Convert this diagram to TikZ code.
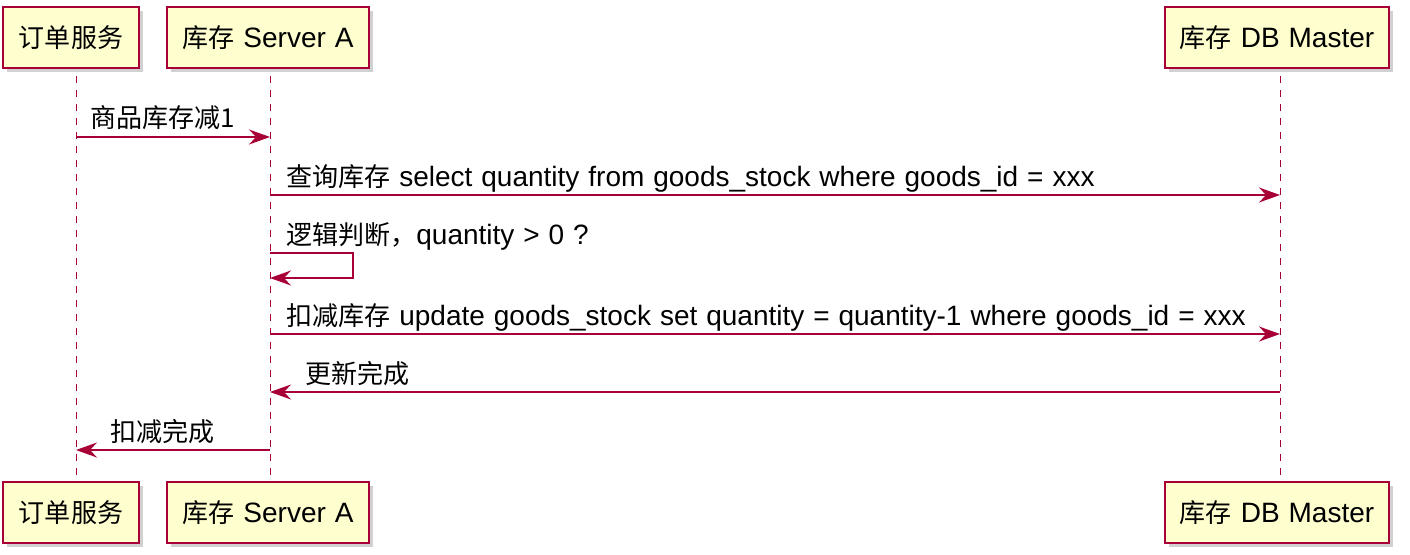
\documentclass[tikz,border=0pt]{standalone}
\usepackage{fontspec}
\setmainfont[WordSpace=1.15]{Liberation Sans}
\newfontfamily\cjk[Scale=0.93]{Noto Sans CJK SC}
\usetikzlibrary{arrows.meta,shadows}
\definecolor{umlred}{HTML}{A80036}
\definecolor{umlfill}{HTML}{FEFECE}

\begin{document}
\begin{tikzpicture}[x=1pt,y=-1pt,
    actor/.style={draw=umlred,fill=umlfill,line width=2pt,minimum height=61pt,
        inner xsep=14pt,font=\fontsize{28}{30}\selectfont,
        drop shadow={shadow xshift=4pt,shadow yshift=-4pt,opacity=0.3,fill=black!60}},
    life/.style={umlred,line width=1pt,dash pattern=on 7pt off 7pt},
    msg/.style={umlred,line width=1.4pt,-{Stealth[length=21pt,width=15pt,inset=7pt]}},
    txt/.style={anchor=base west,inner sep=0pt,font=\fontsize{28}{30}\selectfont}]
    \useasboundingbox (0,0) rectangle (1410,554);
    \node[actor,minimum width=136pt] (ordT) at (71,37.5) {\cjk 订单服务};
    \node[actor,minimum width=202pt] (srvT) at (268,37.5) {{\cjk 库存} Server A};
    \node[actor,minimum width=224pt] (dbT) at (1277,37.5) {{\cjk 库存} DB Master};
    \node[actor,minimum width=136pt] (ordB) at (71,512.5) {\cjk 订单服务};
    \node[actor,minimum width=202pt] (srvB) at (268,512.5) {{\cjk 库存} Server A};
    \node[actor,minimum width=224pt] (dbB) at (1277,512.5) {{\cjk 库存} DB Master};
    \coordinate (ordU) at (76,76); \coordinate (ordD) at (76,476);
    \coordinate (srvU) at (270,76); \coordinate (srvD) at (270,476);
    \coordinate (dbU) at (1280,76); \coordinate (dbD) at (1280,476);
    \draw[life] (ordU) -- (ordD);
    \draw[life] (srvU) -- (srvD);
    \draw[life] (dbU) -- (dbD);
    \draw[msg] (ordU |- 0,137) -- (srvU |- 0,137);
    \node[txt] (m1) at (90,127) {\cjk 商品库存减1};
    \draw[msg] (srvU |- 0,195) -- (dbU |- 0,195);
    \node[txt] (m2) at (286,186) {{\cjk 查询库存} select quantity from goods\_stock where goods\_id = xxx};
    \draw[msg] (srvU |- 0,253) -- (353,253) -- (353,278) -- (srvU |- 0,278);
    \node[txt] (m3) at (286,244) {{\cjk 逻辑判断，}quantity > 0 ?};
    \draw[msg] (srvU |- 0,334) -- (dbU |- 0,334);
    \node[txt] (m4) at (286,325) {{\cjk 扣减库存} update goods\_stock set quantity = quantity-1 where goods\_id = xxx};
    \draw[msg] (dbU |- 0,392) -- (srvU |- 0,392);
    \node[txt] (m5) at (305,383) {\cjk 更新完成};
    \draw[msg] (srvU |- 0,450) -- (ordU |- 0,450);
    \node[txt] (m6) at (110,441) {\cjk 扣减完成};
\end{tikzpicture}
\end{document}
